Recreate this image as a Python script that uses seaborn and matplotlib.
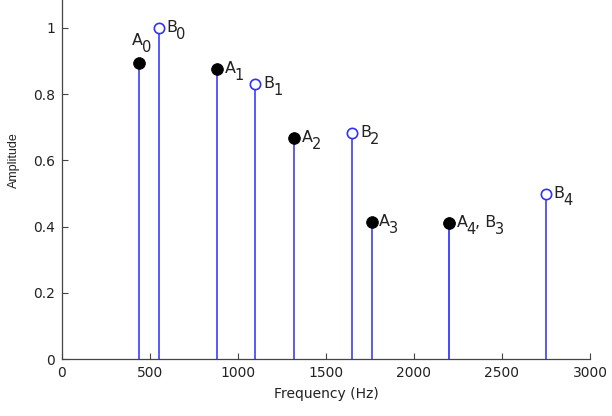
import matplotlib
matplotlib.use("Agg")
import matplotlib.pyplot as plt
import seaborn as sns
import pandas as pd

# Data
a_freq = [440, 880, 1320, 1760, 2200]
a_amp = [0.895, 0.876, 0.668, 0.414, 0.411]
b_freq = [550, 1100, 1650, 2200, 2750]
b_amp = [1.0, 0.831, 0.683, 0.411, 0.498]
# label pieces: (main, subscript) pairs
a_labels = [[("A", "0")], [("A", "1")], [("A", "2")], [("A", "3")],
            [("A", "4"), (", B", "3")]]
b_labels = [[("B", "0")], [("B", "1")], [("B", "2")], None, [("B", "4")]]

sns.set_style("white")
plt.rcParams["font.family"] = ["DejaVu Sans"]

df_a = pd.DataFrame({"freq": a_freq, "amp": a_amp})
df_b = pd.DataFrame({"freq": b_freq, "amp": b_amp})

fig = plt.figure(figsize=(6.12, 4.16), dpi=100)
# axes extends above the figure top (cropped view, ylim up to 1.2)
ax = fig.add_axes([0.101, 0.137, 0.863, 0.955])

blue = "#4b4bff"
ax.vlines(df_b["freq"], 0, df_b["amp"], color=blue, lw=1.3, zorder=1)
ax.vlines(df_a["freq"], 0, df_a["amp"], color=blue, lw=1.3, zorder=1)
sns.scatterplot(data=df_b, x="freq", y="amp", ax=ax, s=55, marker="o",
                facecolor="white", edgecolor="#3030ff", linewidth=1.2, zorder=2)
sns.scatterplot(data=df_a, x="freq", y="amp", ax=ax, s=70, marker="o",
                color="black", edgecolor="black", zorder=3)

fs_main = 11.5
fs_sub = 10.5
txt_col = "#222222"


def draw_label(x, y, pieces, dx, dy):
    first = None
    prev = None
    for main, sub in pieces:
        if first is None:
            t = ax.annotate(main, (x, y), xytext=(dx, dy),
                            textcoords="offset points", ha="left",
                            va="baseline", fontsize=fs_main, color=txt_col)
            first = t
        else:
            t = ax.annotate(main, xy=(1, 0), xycoords=(prev, first),
                            xytext=(-0.5, 0), textcoords="offset points",
                            ha="left", va="bottom", fontsize=fs_main,
                            color=txt_col)
        s = ax.annotate(sub, xy=(1, 0), xycoords=t, xytext=(-0.8, -5),
                        textcoords="offset points", ha="left",
                        va="bottom", fontsize=fs_sub, color=txt_col)
        prev = s


for i, (x, y, lab) in enumerate(zip(a_freq, a_amp, a_labels)):
    if i == 0:
        draw_label(x, y, lab, -5, 13)
    else:
        draw_label(x, y, lab, 5.5, -3)
for x, y, lab in zip(b_freq, b_amp, b_labels):
    if lab is None:
        continue
    draw_label(x, y, lab, 5.5, -3)

ax.set_xlim(0, 3000)
ax.set_ylim(0, 1.2)
ax.set_xticks([0, 500, 1000, 1500, 2000, 2500, 3000])
ax.set_yticks([0, 0.2, 0.4, 0.6, 0.8, 1.0])
ax.set_yticklabels(["0", "0.2", "0.4", "0.6", "0.8", "1"])
ax.set_xlabel("Frequency (Hz)", fontsize=10, labelpad=5, color=txt_col)
ax.set_ylabel("Amplitude", fontsize=9, labelpad=9, color=txt_col,
              family="Liberation Sans")
ax.tick_params(direction="in", length=4, width=0.8, labelsize=10, pad=5,
               bottom=True, left=True, colors="#444444", labelcolor=txt_col)
sns.despine(ax=ax)
for s in ["left", "bottom"]:
    ax.spines[s].set_color("#444444")
    ax.spines[s].set_linewidth(0.9)

fig.savefig("out.png", dpi=100)
